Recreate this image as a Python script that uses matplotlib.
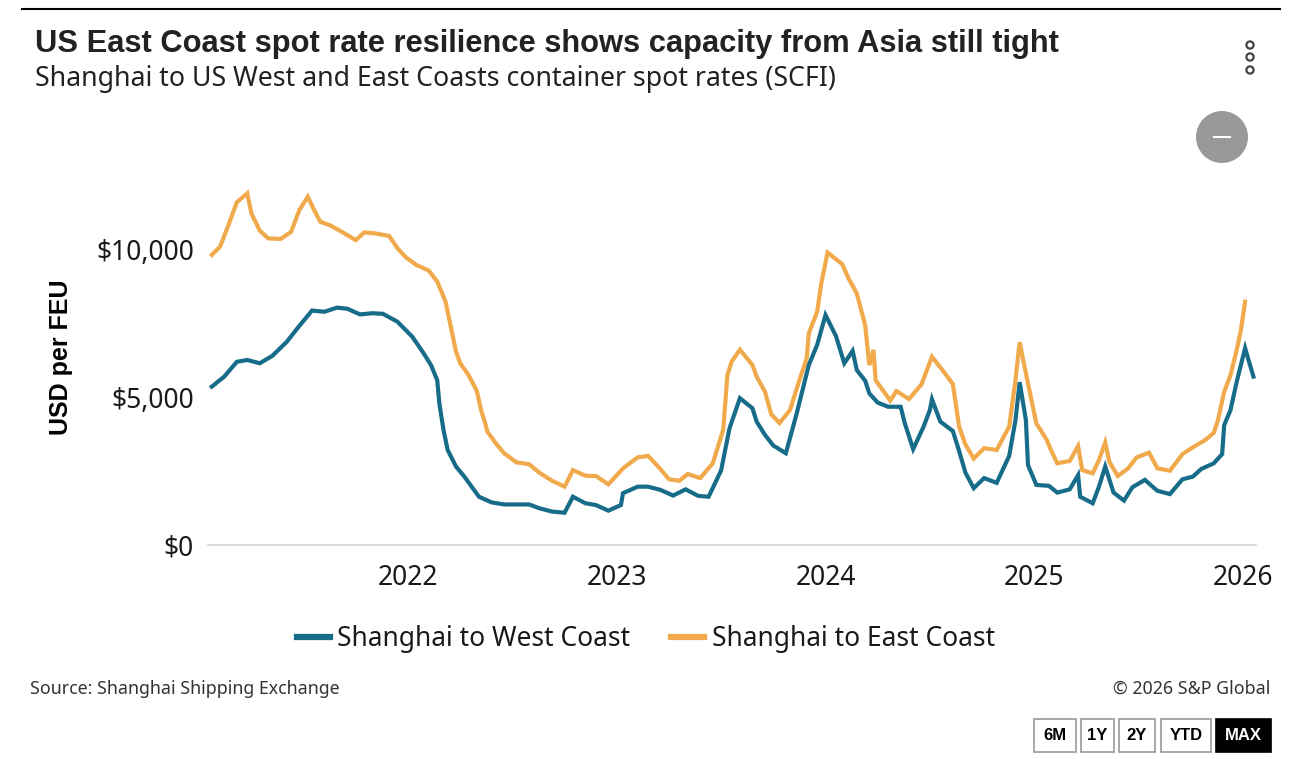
import matplotlib
matplotlib.use("Agg")
import matplotlib.pyplot as plt
from matplotlib import font_manager
from matplotlib.patches import Circle, Rectangle
from matplotlib.ticker import FuncFormatter

# ---------------- data ----------------
west_dates = [2021.06, 2021.12, 2021.18, 2021.23, 2021.29, 2021.35, 2021.42, 2021.47, 2021.54, 2021.60,
              2021.66, 2021.71, 2021.77, 2021.83, 2021.88, 2021.95, 2022.02, 2022.07, 2022.11, 2022.14,
              2022.15, 2022.17, 2022.19, 2022.23, 2022.27, 2022.31, 2022.34, 2022.40, 2022.46, 2022.58,
              2022.63, 2022.69, 2022.75, 2022.79, 2022.85, 2022.90, 2022.96, 2023.02, 2023.03, 2023.10,
              2023.15, 2023.21, 2023.27, 2023.33, 2023.39, 2023.44, 2023.50, 2023.54, 2023.59, 2023.65,
              2023.67, 2023.71, 2023.75, 2023.81, 2023.86, 2023.92, 2023.96, 2024.00, 2024.05, 2024.09,
              2024.13, 2024.15, 2024.19, 2024.21, 2024.25, 2024.30, 2024.36, 2024.38, 2024.42, 2024.47,
              2024.50, 2024.51, 2024.55, 2024.61, 2024.64, 2024.67, 2024.71, 2024.76, 2024.82, 2024.88,
              2024.91, 2024.93, 2024.96, 2024.97, 2025.01, 2025.07, 2025.11, 2025.17, 2025.21, 2025.22,
              2025.28, 2025.31, 2025.34, 2025.38, 2025.43, 2025.47, 2025.53, 2025.59, 2025.65, 2025.71,
              2025.76, 2025.80, 2025.86, 2025.90, 2025.91, 2025.94, 2025.97, 2026.01, 2026.05]
west_values = [5350, 5690, 6190, 6250, 6140, 6390, 6870, 7320, 7920, 7880,
               8020, 7980, 7790, 7830, 7810, 7540, 7040, 6530, 6080, 5570,
               4790, 3890, 3210, 2650, 2310, 1920, 1630, 1440, 1370, 1370,
               1240, 1130, 1090, 1630, 1410, 1350, 1160, 1350, 1750, 1970,
               1970, 1860, 1670, 1880, 1660, 1630, 2520, 3940, 4960, 4620,
               4170, 3720, 3360, 3100, 4390, 6080, 6760, 7770, 7060, 6140,
               6560, 5910, 5550, 5120, 4810, 4670, 4670, 4110, 3240, 4000,
               4560, 4920, 4170, 3850, 3180, 2450, 1920, 2260, 2100, 3010,
               4220, 5500, 4220, 2700, 2030, 2000, 1770, 1880, 2360, 1630,
               1410, 1970, 2650, 1770, 1500, 1950, 2200, 1830, 1720, 2220,
               2310, 2570, 2760, 3070, 4050, 4560, 5520, 6650, 5690]

east_dates = [2021.06, 2021.10, 2021.14, 2021.18, 2021.23, 2021.25, 2021.29, 2021.33, 2021.39, 2021.44,
              2021.48, 2021.52, 2021.55, 2021.58, 2021.63, 2021.69, 2021.75, 2021.79, 2021.84, 2021.91,
              2021.95, 2021.99, 2022.04, 2022.10, 2022.14, 2022.18, 2022.23, 2022.25, 2022.29, 2022.33,
              2022.35, 2022.37, 2022.38, 2022.42, 2022.46, 2022.52, 2022.58, 2022.63, 2022.69, 2022.75,
              2022.79, 2022.85, 2022.90, 2022.96, 2023.03, 2023.10, 2023.15, 2023.21, 2023.25, 2023.30,
              2023.34, 2023.40, 2023.46, 2023.51, 2023.53, 2023.55, 2023.59, 2023.65, 2023.67, 2023.71,
              2023.74, 2023.78, 2023.83, 2023.87, 2023.91, 2023.92, 2023.96, 2023.98, 2024.01, 2024.08,
              2024.11, 2024.15, 2024.19, 2024.21, 2024.23, 2024.24, 2024.31, 2024.34, 2024.40, 2024.46,
              2024.51, 2024.56, 2024.61, 2024.64, 2024.67, 2024.71, 2024.76, 2024.82, 2024.88, 2024.91,
              2024.93, 2024.97, 2025.01, 2025.06, 2025.08, 2025.11, 2025.17, 2025.21, 2025.23, 2025.28,
              2025.31, 2025.34, 2025.36, 2025.40, 2025.45, 2025.49, 2025.55, 2025.59, 2025.65, 2025.71,
              2025.76, 2025.82, 2025.86, 2025.88, 2025.91, 2025.94, 2025.97, 2025.99, 2026.01]
east_values = [9800, 10080, 10810, 11580, 11880, 11200, 10620, 10360, 10340, 10580,
               11320, 11770, 11320, 10920, 10790, 10550, 10300, 10560, 10530, 10440,
               10020, 9720, 9460, 9270, 8900, 8220, 6530, 6140, 5740, 5200,
               4560, 4110, 3830, 3440, 3100, 2790, 2730, 2440, 2170, 1970,
               2530, 2340, 2330, 2050, 2590, 2960, 3010, 2560, 2220, 2170,
               2400, 2260, 2760, 3890, 5740, 6190, 6600, 6080, 5690, 5180,
               4420, 4120, 4560, 5460, 6310, 7150, 7880, 8840, 9880, 9490,
               9010, 8500, 7430, 6080, 6590, 5570, 4880, 5200, 4930, 5430,
               6360, 5910, 5440, 4000, 3400, 2920, 3270, 3210, 4000, 5570,
               6850, 5460, 4110, 3550, 3210, 2760, 2840, 3340, 2530, 2420,
               2870, 3460, 2810, 2330, 2590, 2960, 3120, 2590, 2510, 3070,
               3300, 3550, 3790, 4220, 5180, 5740, 6590, 7260, 8220]

year_ticks = [2022, 2023, 2024, 2025, 2026]
value_ticks = [0, 5000, 10000]
series_names = ["Shanghai to West Coast", "Shanghai to East Coast"]
range_buttons = ["6M", "1Y", "2Y", "YTD", "MAX"]

# ---------------- style ----------------
avail = {f.name for f in font_manager.fontManager.ttflist}
BOLDF = "Liberation Sans" if "Liberation Sans" in avail else "DejaVu Sans"
REGF = "Noto Sans" if "Noto Sans" in avail else BOLDF
plt.rcParams["font.family"] = [REGF, "DejaVu Sans"]

BLUE = "#176d89"
ORANGE = "#f0aa4b"
TXT = "#1a1a1a"

W, H = 1302, 759
fig = plt.figure(figsize=(W / 100, H / 100), dpi=100)
fig.patch.set_facecolor("white")

# overlay for decorations in pixel coordinates
ov = fig.add_axes([0, 0, 1, 1])
ov.set_xlim(0, W)
ov.set_ylim(H, 0)
ov.axis("off")

# main plot axes
L, R, T, B = 208, 1256, 170, 545
ax = fig.add_axes([L / W, 1 - B / H, (R - L) / W, (B - T) / H])
ax.patch.set_alpha(0)

l1, = ax.plot(west_dates, west_values, color=BLUE, lw=3.0, solid_joinstyle="miter",
              label=series_names[0], zorder=3)
l2, = ax.plot(east_dates, east_values, color=ORANGE, lw=3.0, solid_joinstyle="miter",
              label=series_names[1], zorder=2)

ax.set_xlim(2022 + (L - 408) / 208.75, 2022 + (R - 408) / 208.75)
ax.set_ylim(0, (B - T) / 29.6 * 1000)
ax.set_xticks(year_ticks)
ax.set_xticklabels([str(y) for y in year_ticks])
ax.set_yticks(value_ticks)
ax.yaxis.set_major_formatter(FuncFormatter(lambda v, p: "${:,.0f}".format(v)))
ax.tick_params(axis="both", length=0, labelsize=19, colors=TXT)
ax.tick_params(axis="y", pad=10)
ax.tick_params(axis="x", pad=14)
for s in ["top", "right", "left"]:
    ax.spines[s].set_visible(False)
ax.spines["bottom"].set_color("#d3d3d3")
ax.spines["bottom"].set_linewidth(1.2)
ax.set_ylabel("USD per FEU", fontsize=18, fontweight="bold", color="black", labelpad=17,
              family=[BOLDF, "DejaVu Sans"])

# legend
leg = fig.legend(handles=[l1, l2], loc="center", bbox_to_anchor=(646 / W, 1 - 639 / H),
                 ncol=2, frameon=False, fontsize=19, handlelength=1.25, handletextpad=0.3,
                 columnspacing=1.55)
for h in leg.legend_handles:
    h.set_linewidth(4.5)
for t in leg.get_texts():
    t.set_color(TXT)

# header
ov.plot([22, 1280], [9, 9], color="black", lw=1.5)
ov.text(35, 44, "US East Coast spot rate resilience shows capacity from Asia still tight",
        fontsize=22.2, fontweight="bold", color="#222222", va="center", ha="left",
        family=[BOLDF, "DejaVu Sans"])
ov.text(35, 79, "Shanghai to US West and East Coasts container spot rates (SCFI)",
        fontsize=19.2, color="#222222", va="center", ha="left")

# menu dots
for yy in (45, 57, 70):
    ov.add_patch(Circle((1250, yy), 3.6, facecolor="white", edgecolor="#444444", lw=1.6))
# collapse button
ov.add_patch(Circle((1222, 137), 26, facecolor="#999999", edgecolor="none"))
ov.plot([1214, 1230], [136.5, 136.5], color="white", lw=1.5)

# footer
ov.text(30, 689, "Source: Shanghai Shipping Exchange", fontsize=12.8, color="#333333",
        va="center", ha="left")
ov.text(1270, 689, "\u00a9 2026 S&P Global", fontsize=12.8, color="#333333",
        va="center", ha="right")

btn_x = [(1034, 1076), (1081, 1114), (1119, 1155), (1161, 1211), (1216, 1271)]
for (x0, x1), lab in zip(btn_x, range_buttons):
    active = lab == "MAX"
    ov.add_patch(Rectangle((x0, 719), x1 - x0, 33,
                           facecolor="black" if active else "white",
                           edgecolor="black" if active else "#9a9a9a", lw=1.2))
    ov.text((x0 + x1) / 2, 735.5, lab, fontsize=12, fontweight="bold",
            color="white" if active else "black", ha="center", va="center",
            family=[BOLDF, "DejaVu Sans"])

fig.savefig("out.png", dpi=100, facecolor="white")
